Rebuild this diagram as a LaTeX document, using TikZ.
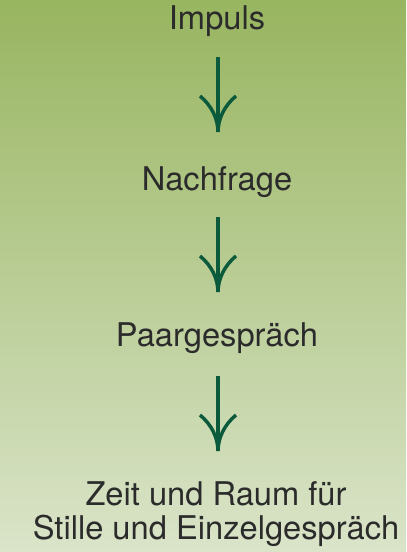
\documentclass[tikz,border=0pt]{standalone}
\usepackage{fontspec}
\setmainfont{TeX Gyre Heros}
\definecolor{bgtop}{HTML}{98B560}
\definecolor{bgbot}{HTML}{DAE4C9}
\definecolor{txt}{HTML}{2B2B2B}
\definecolor{arr}{HTML}{0B5A3C}
\tikzset{
  lbl/.style={text=txt, font=\fontsize{24.5}{25}\selectfont, align=center, inner sep=0pt, anchor=center},
  shaft/.style={draw=arr, line width=2.6pt, line cap=butt},
}
\newcommand{\flowarrow}[2]{%
  \draw[shaft] (#1) -- (#2);
  \draw[shaft] ([xshift=-13.5pt,yshift=27pt]#2) .. controls ([xshift=-5pt,yshift=20pt]#2) and ([yshift=10pt]#2) .. (#2);
  \draw[shaft] ([xshift=13.5pt,yshift=27pt]#2) .. controls ([xshift=5pt,yshift=20pt]#2) and ([yshift=10pt]#2) .. (#2);
}
\begin{document}
\begin{tikzpicture}[x=0.75pt,y=-0.75pt]
\shade[top color=bgtop, bottom color=bgbot] (0,0) rectangle (406,552);
\useasboundingbox (0,0) rectangle (406,552);
\node[lbl] (impuls) at (217,21) {Impuls};
\node[lbl] (nachfrage) at (217,182) {Nachfrage};
\node[lbl] (paar) at (217,338) {Paargespräch};
\node[lbl] (zeit) at (216,514) {Zeit und Raum für\\Stille und Einzelgespräch};
\coordinate (a1s) at (218,57);
\coordinate (a1e) at (218,132);
\coordinate (a2s) at (218,217);
\coordinate (a2e) at (218,292);
\coordinate (a3s) at (218,376);
\coordinate (a3e) at (218,451);
\flowarrow{a1s}{a1e}
\flowarrow{a2s}{a2e}
\flowarrow{a3s}{a3e}
\end{tikzpicture}
\end{document}
